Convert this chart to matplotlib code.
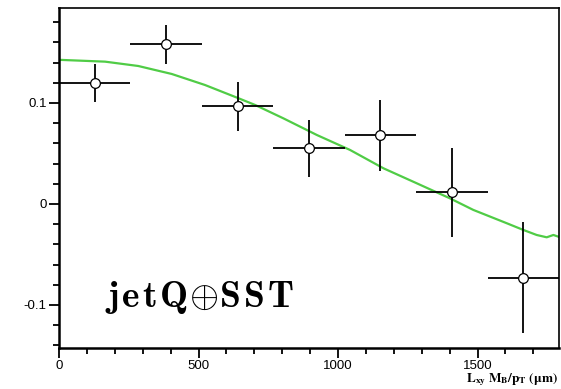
import matplotlib
matplotlib.use("Agg")
import matplotlib.pyplot as plt
from matplotlib.ticker import MultipleLocator

# data points (bin centres, asymmetry, errors)
x_pts = [128, 384, 640, 896, 1152, 1408, 1664]
x_err = [128, 128, 128, 128, 128, 128, 128]
y_pts = [0.120, 0.158, 0.0965, 0.055, 0.068, 0.0115, -0.073]
y_err = [0.019, 0.019, 0.024, 0.028, 0.035, 0.044, 0.055]

# fit curve
curve_x = [0, 10, 165, 284, 404, 523, 643, 703, 804, 924, 1043, 1163, 1282,
           1401, 1485, 1605, 1664, 1712, 1748, 1772, 1790]
curve_y = [0.1426, 0.1426, 0.1409, 0.1366, 0.1287, 0.1178, 0.1047, 0.0980,
           0.0848, 0.0683, 0.0535, 0.0353, 0.0205, 0.0056, -0.0059, -0.0191,
           -0.0257, -0.0307, -0.0330, -0.0307, -0.0324]

plt.rcParams['font.family'] = ['Liberation Sans', 'DejaVu Sans']

fig = plt.figure(figsize=(5.61, 3.89), dpi=100)
ax = fig.add_axes([0.1052, 0.1054, 0.8912, 0.874])

ax.plot(curve_x, curve_y, color='#50cc46', lw=1.6, zorder=2)
ax.errorbar(x_pts, y_pts, xerr=x_err, yerr=y_err, fmt='o', color='black',
            ecolor='black', elinewidth=1.3, capsize=0, markersize=7,
            markerfacecolor='white', markeredgecolor='black',
            markeredgewidth=0.9, zorder=3)

ax.set_xlim(0, 1792)
ax.set_ylim(-0.1426, 0.194)

ax.xaxis.set_minor_locator(MultipleLocator(100))
ax.yaxis.set_minor_locator(MultipleLocator(0.02))
ax.set_xticks([0, 500, 1000, 1500])
ax.set_xticklabels(['0', '500', '1000', '1500'])
ax.set_yticks([-0.1, 0, 0.1])
ax.set_yticklabels(['-0.1', '0', '0.1'])

ax.tick_params(which='major', direction='out', length=7, width=1.3,
               labelsize=9.5, pad=2)
ax.tick_params(which='minor', direction='out', length=4, width=1.3)
ax.tick_params(top=False, right=False, which='both')

ax.spines['left'].set_linewidth(1.8)
ax.spines['bottom'].set_linewidth(1.8)
ax.spines['top'].set_linewidth(1.2)
ax.spines['right'].set_linewidth(1.2)

sp = r'\hspace{0.09}'
label = (r'$\mathbf{j' + sp + 'e' + sp + 't' + sp + r'Q}\hspace{0.04}{\oplus}'
         + r'\hspace{0.04}\mathbf{S' + sp + 'S' + sp + 'T}$')
ax.text(0.092, 0.122, label, transform=ax.transAxes,
        fontsize=27, math_fontfamily='cm', ha='left', va='baseline')

fig.text(0.995, 0.003, r'$\mathbf{L_{xy}\ M_B/p_T\ (\mu m)}$',
         fontsize=9.5, math_fontfamily='stix', ha='right', va='bottom')

fig.savefig('out.png', dpi=100)
